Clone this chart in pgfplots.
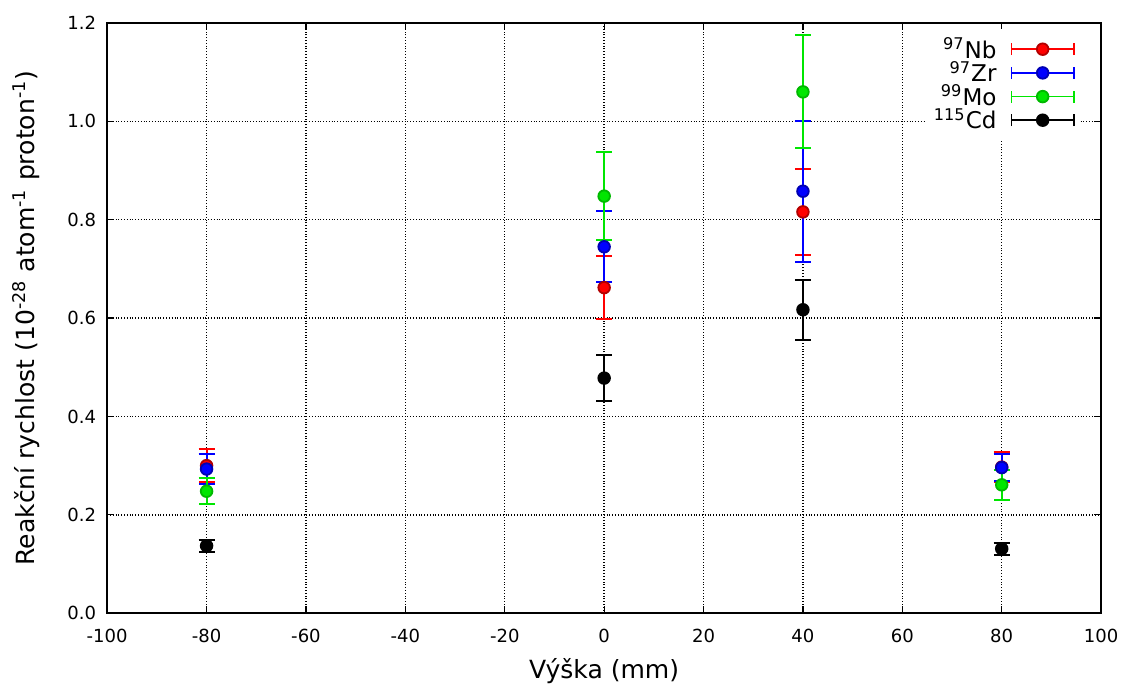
\documentclass[border=0pt]{standalone}
\usepackage{pgfplots}
\pgfplotsset{compat=1.18}
\usepackage{fontspec}
\setmainfont{DejaVu Sans}

\definecolor{cNb}{RGB}{255,0,0}
\definecolor{cZr}{RGB}{0,0,255}
\definecolor{cMo}{RGB}{0,230,0}
\definecolor{cCd}{RGB}{0,0,0}

\begin{document}
\begin{tikzpicture}
\begin{axis}[
  scale only axis,
  width=496pt, height=294.5pt,
  xmin=-100, xmax=100, ymin=0, ymax=1.2,
  xtick={-100,-80,...,100},
  ytick={0,0.2,...,1.2},
  /pgf/number format/assume math mode=true,
  ticklabel style={font=\fontsize{9}{11}\selectfont},
  xticklabel style={yshift=-4.5pt},
  yticklabel style={xshift=-2pt, /pgf/number format/.cd, fixed, fixed zerofill, precision=1},
  label style={font=\fontsize{12.5}{14}\selectfont},
  xlabel={Výška (mm)},
  ylabel={Reakční rychlost (10\textsuperscript{-28} atom\textsuperscript{-1} proton\textsuperscript{-1})},
  xlabel style={yshift=-1pt},
  ylabel style={yshift=7pt},
  axis line style={line width=1pt},
  tick align=inside,
  major tick length=3.5pt,
  tick style={black, line width=0.6pt},
  grid=major,
  major grid style={black, densely dotted, line width=0.7pt},
  legend plot pos=right,
  legend cell align=right,
  legend style={draw=none, fill=white, font=\fontsize{11.5}{12}\selectfont,
    row sep=-4pt, column sep=5pt, inner sep=2pt, at={(0.978,0.99)}, anchor=north east},
  legend image code/.code={
    \draw[#1, line width=0.8pt] (0cm,0cm) -- (1.1cm,0cm);
    \draw[#1, line width=0.8pt] (0cm,-3pt) -- (0cm,3pt) (1.1cm,-3pt) -- (1.1cm,3pt);
    \draw[#1] plot coordinates {(0.55cm,0cm)};
  },
  every axis plot/.append style={
    only marks, line width=0.9pt,
    error bars/y dir=both, error bars/y explicit,
    error bars/error mark options={rotate=90, mark size=4pt, line width=1pt},
    error bars/error bar style={line width=1pt},
  },
]
\addplot[color=cNb, mark=*, mark size=2.9pt, mark options={fill=cNb, draw=cNb!70!black}]
  coordinates {(-80,0.300)+-(0,0.033) (0,0.662)+-(0,0.064) (40,0.816)+-(0,0.088) (80,0.297)+-(0,0.031)};
\addlegendentry{\textsuperscript{97}Nb}
\addplot[color=cZr, mark=*, mark size=2.9pt, mark options={fill=cZr, draw=cZr!70!black}]
  coordinates {(-80,0.293)+-(0,0.030) (0,0.745)+-(0,0.072) (40,0.858)+-(0,0.143) (80,0.296)+-(0,0.027)};
\addlegendentry{\textsuperscript{97}Zr}
\addplot[color=cMo, mark=*, mark size=2.9pt, mark options={fill=cMo, draw=cMo!80!black}]
  coordinates {(-80,0.248)+-(0,0.027) (0,0.848)+-(0,0.089) (40,1.060)+-(0,0.115) (80,0.261)+-(0,0.030)};
\addlegendentry{\textsuperscript{99}Mo}
\addplot[color=cCd, mark=*, mark size=2.9pt, mark options={fill=black, draw=black}]
  coordinates {(-80,0.137)+-(0,0.012) (0,0.478)+-(0,0.046) (40,0.617)+-(0,0.061) (80,0.131)+-(0,0.012)};
\addlegendentry{\textsuperscript{115}Cd}
\end{axis}
% white room round the frame and labels
\path (current axis.north) ++(0,11.5pt);
\path (current axis.outer west) ++(-3pt,0);
\path (current axis.outer south) ++(0,-1pt);
\end{tikzpicture}
\end{document}
